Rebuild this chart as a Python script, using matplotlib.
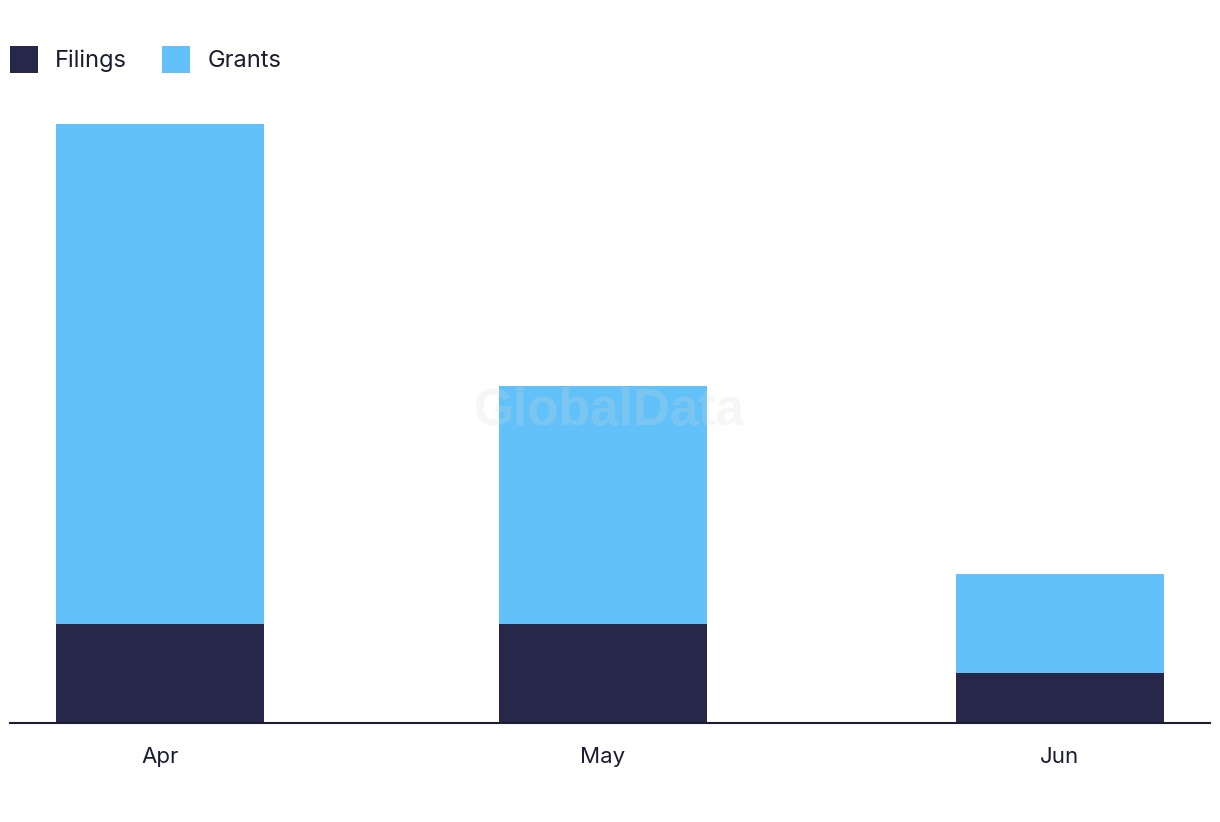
"""
Stacked monthly bars of patent filings and grants.
"""

import datetime

import matplotlib
matplotlib.use("Agg")
import matplotlib.pyplot as plt
import matplotlib.dates as mdates
from matplotlib.patches import Patch

months = [
    datetime.date(2024, 4, 1),
    datetime.date(2024, 5, 1),
    datetime.date(2024, 6, 1),
]
month_labels = ["Apr", "May", "Jun"]

filings = [2, 2, 1]
grants = [10.07, 4.78, 2.0]

FILINGS_COLOR = "#272849"
GRANTS_COLOR = "#62C1F8"
TEXT_COLOR = "#1c1c30"

plt.rcParams["font.family"] = ["Inter", "DejaVu Sans"]

fig = plt.figure(figsize=(12.2, 8.22), dpi=100)

W, H = 1220, 822
ax = fig.add_axes([10 / W, (H - 723) / H, 1200 / W, 623 / H])

x = mdates.date2num(months)

ax.bar(x, filings, width=14.1, color=FILINGS_COLOR, zorder=2)
ax.bar(x, grants, width=14.1, bottom=filings, color=GRANTS_COLOR, zorder=2)

ax.set_xlim(x[0] - 10.17, x[-1] + 10.17)
ax.set_ylim(0, 623 / 49.65)

ax.set_xticks(x)
ax.set_xticklabels(month_labels, fontsize=16, color=TEXT_COLOR)
ax.tick_params(axis="x", length=0, pad=17)
ax.set_yticks([])

for side in ["top", "right", "left"]:
    ax.spines[side].set_visible(False)

ax.spines["bottom"].set_color(TEXT_COLOR)
ax.spines["bottom"].set_linewidth(1.5)
ax.spines["bottom"].set_zorder(3)

# faint watermark
fig.text(
    610 / W,
    1 - 411 / H,
    "GlobalData",
    ha="center",
    va="center",
    fontsize=37,
    fontweight="bold",
    family=["Liberation Sans", "DejaVu Sans"],
    color="#d8d8d8",
    alpha=0.22,
    zorder=5
)

handles = [
    Patch(facecolor=FILINGS_COLOR, label="Filings"),
    Patch(facecolor=GRANTS_COLOR, label="Grants"),
]

fig.legend(
    handles=handles,
    loc="upper left",
    bbox_to_anchor=(10 / W, 1 - 46 / H),
    ncol=2,
    frameon=False,
    fontsize=17,
    handlelength=1.19,
    handleheight=1.38,
    handletextpad=0.72,
    columnspacing=1.49,
    borderpad=0,
    borderaxespad=0,
    labelcolor=TEXT_COLOR
)

fig.savefig("out.png", dpi=100)

plt.close(fig)
